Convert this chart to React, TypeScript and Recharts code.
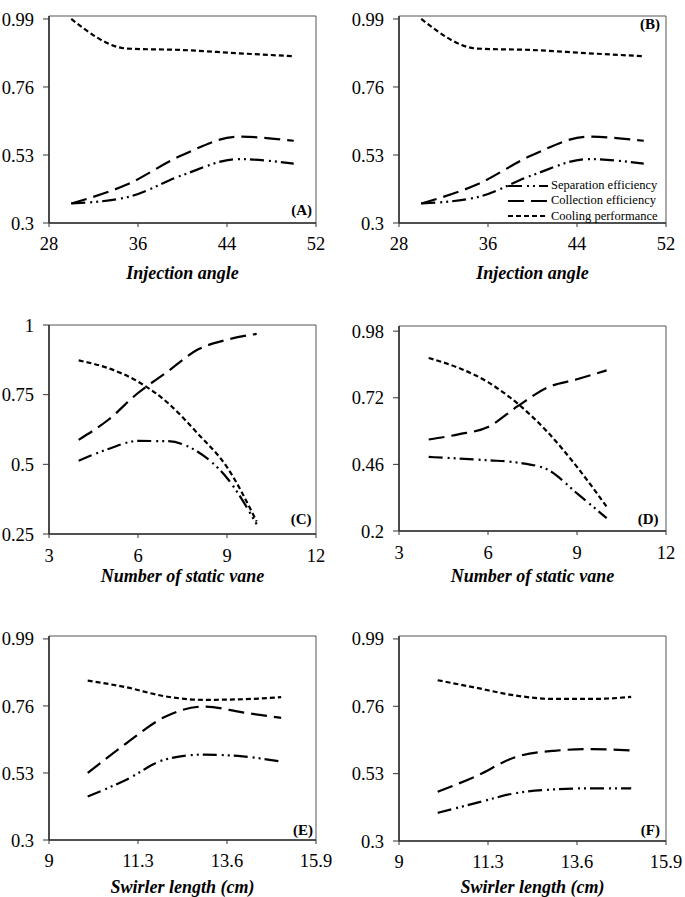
import React from 'react';
import {
  LineChart,
  Line,
  XAxis,
  YAxis,
  ReferenceArea,
  Legend,
  Label,
} from 'recharts';

// x values
const angle = [30, 35, 40, 45, 50];
const vanes = [4, 5, 6, 7, 8, 9, 10];
const swirler = [10, 11, 12, 13, 14, 15];

// (A) / (B) injection angle
const sepAngle = [0.366, 0.387, 0.462, 0.516, 0.501];
const colAngle = [0.366, 0.43, 0.53, 0.592, 0.578];
const coolAngle = [0.99, 0.89, 0.885, 0.874, 0.864];

// (C) static vanes
const sepVaneC = [0.513, 0.555, 0.584, 0.583, 0.546, 0.451, 0.285];
const colVaneC = [0.588, 0.66, 0.756, 0.833, 0.911, 0.947, 0.968];
const coolVaneC = [0.873, 0.845, 0.797, 0.721, 0.612, 0.49, 0.295];

// (D) static vanes
const sepVaneD = [0.489, 0.483, 0.476, 0.467, 0.44, 0.347, 0.25];
const colVaneD = [0.557, 0.577, 0.606, 0.687, 0.76, 0.792, 0.827];
const coolVaneD = [0.875, 0.837, 0.781, 0.697, 0.587, 0.45, 0.295];

// (E) / (F) swirler length
const sepSwirlE = [0.449, 0.507, 0.576, 0.593, 0.587, 0.569];
const colSwirlE = [0.53, 0.632, 0.723, 0.758, 0.738, 0.719];
const coolSwirlE = [0.847, 0.824, 0.793, 0.781, 0.783, 0.79];
const sepSwirlF = [0.396, 0.43, 0.463, 0.476, 0.48, 0.48];
const colSwirlF = [0.468, 0.522, 0.586, 0.608, 0.614, 0.609];
const coolSwirlF = [0.849, 0.823, 0.797, 0.785, 0.785, 0.792];

// axis ticks
const angleTicks = [28, 36, 44, 52];
const vaneTicks = [3, 6, 9, 12];
const swirlTicks = [9, 11.3, 13.6, 15.9];
const effTicks = [0.3, 0.53, 0.76, 0.99];
const effTicksC = [0.25, 0.5, 0.75, 1];
const effTicksD = [0.2, 0.46, 0.72, 0.98];

const SERIES = [
  { key: 'sep', name: 'Separation efficiency', dash: '14 5 2 4 2 4' },
  { key: 'col', name: 'Collection efficiency', dash: '16 7' },
  { key: 'cool', name: 'Cooling performance', dash: '5 3' },
];

const FONT = 'Liberation Serif';

function LegendBox() {
  return (
    <div style={{ fontFamily: FONT, fontSize: 12.5, lineHeight: '15.3px', color: '#000' }}>
      {SERIES.map((s) => (
        <div key={s.key} style={{ display: 'flex', alignItems: 'center', whiteSpace: 'nowrap' }}>
          <svg width={40} height={8} style={{ marginRight: 3 }}>
            <line x1={0} y1={4} x2={40} y2={4} stroke="#000" strokeWidth={2.2} strokeDasharray={s.dash} />
          </svg>
          <span>{s.name}</span>
        </div>
      ))}
    </div>
  );
}

function Panel(p: any) {
  const rows = p.xs.map((x: number, i: number) => ({ x, sep: p.sep[i], col: p.col[i], cool: p.cool[i] }));
  const xh = p.height - p.marginTop - p.plotHeight;
  const tick = { fontFamily: FONT, fontSize: 18.5, fill: '#000' };
  const tagContent = (props: any) => {
    const vb = props.viewBox;
    const x = vb.x + vb.width - p.tagDx;
    const y = p.tagPos === 'top' ? vb.y + p.tagDy : vb.y + vb.height - p.tagDy;
    return (
      <text x={x} y={y} textAnchor="end" fontFamily={FONT} fontSize={15} fontWeight="bold" fill="#000">
        {p.tag}
      </text>
    );
  };
  return (
    <div style={{ position: 'absolute', left: p.left, top: p.top }}>
      <LineChart width={340} height={p.height} data={rows} margin={{ top: p.marginTop, right: 24, left: 0, bottom: 0 }}>
        <ReferenceArea
          x1={p.xDomain[0]}
          x2={p.xDomain[1]}
          y1={p.yDomain[0]}
          y2={p.yDomain[1]}
          fill="none"
          stroke="#555"
          strokeWidth={1}
        >
          <Label content={tagContent} />
        </ReferenceArea>
        <XAxis
          type="number"
          dataKey="x"
          domain={p.xDomain}
          ticks={p.xTicks}
          interval={0}
          height={xh}
          tickSize={4}
          tickMargin={p.tickGap}
          tick={tick}
          axisLine={{ stroke: '#333', strokeWidth: 1.6 }}
          tickLine={{ stroke: '#333' }}
          allowDataOverflow
        >
          <Label
            value={p.title}
            position="insideBottom"
            offset={p.titleOffset}
            style={{ fontFamily: FONT, fontSize: 18, fontWeight: 'bold', fontStyle: 'italic', fill: '#000' }}
          />
        </XAxis>
        <YAxis
          type="number"
          domain={p.yDomain}
          ticks={p.yTicks}
          interval={0}
          width={49}
          tickSize={6}
          tickMargin={9}
          tick={tick}
          axisLine={{ stroke: '#333', strokeWidth: 1.6 }}
          tickLine={{ stroke: '#333' }}
          allowDataOverflow
        />
        {p.legend && (
          <Legend
            layout="horizontal"
            verticalAlign="middle"
            content={() => <LegendBox />}
            wrapperStyle={{ left: 158, top: 178, width: 'auto' }}
          />
        )}
        {SERIES.map((s) => (
          <Line
            key={s.key}
            type="monotone"
            dataKey={s.key}
            name={s.name}
            stroke="#000"
            strokeWidth={2.2}
            strokeDasharray={s.dash}
            dot={false}
            activeDot={false}
            isAnimationActive={false}
          />
        ))}
      </LineChart>
    </div>
  );
}

export default function App() {
  const angleAxis = { xs: angle, xDomain: [28, 52], xTicks: angleTicks, yDomain: [0.3, 1.0], yTicks: effTicks, title: 'Injection angle', tickGap: 10 };
  const vaneAxis = { xs: vanes, xDomain: [3, 12], xTicks: vaneTicks, title: 'Number of static vane', tickGap: 11 };
  const swirlAxis = { xs: swirler, xDomain: [9, 15.9], xTicks: swirlTicks, yDomain: [0.3, 1.0], yTicks: effTicks, title: 'Swirler length (cm)', tickGap: 10 };
  return (
    <div style={{ position: 'absolute', left: 0, top: 0, width: 685, height: 897, background: '#fff', overflow: 'hidden' }}>
      <Panel {...angleAxis} left={0} top={0} height={285} marginTop={16} plotHeight={207} titleOffset={6}
        sep={sepAngle} col={colAngle} cool={coolAngle} tag="(A)" tagPos="bottom" tagDx={4} tagDy={8} />
      <Panel {...angleAxis} left={350} top={0} height={285} marginTop={16} plotHeight={207} titleOffset={6}
        sep={sepAngle} col={colAngle} cool={coolAngle} tag="(B)" tagPos="top" tagDx={6} tagDy={13} legend />
      <Panel {...vaneAxis} yDomain={[0.25, 1]} yTicks={effTicksC} left={0} top={300} height={290} marginTop={25} plotHeight={209} titleOffset={8}
        sep={sepVaneC} col={colVaneC} cool={coolVaneC} tag="(C)" tagPos="bottom" tagDx={4.5} tagDy={10.5} />
      <Panel {...vaneAxis} yDomain={[0.2, 1]} yTicks={effTicksD} left={350} top={300} height={290} marginTop={26} plotHeight={205} titleOffset={8}
        sep={sepVaneD} col={colVaneD} cool={coolVaneD} tag="(D)" tagPos="bottom" tagDx={7.5} tagDy={7.5} />
      <Panel {...swirlAxis} left={0} top={600} height={297} marginTop={36} plotHeight={204} titleOffset={4}
        sep={sepSwirlE} col={colSwirlE} cool={coolSwirlE} tag="(E)" tagPos="bottom" tagDx={3} tagDy={5.5} />
      <Panel {...swirlAxis} left={350} top={600} height={297} marginTop={36} plotHeight={205} titleOffset={4}
        sep={sepSwirlF} col={colSwirlF} cool={coolSwirlF} tag="(F)" tagPos="bottom" tagDx={6} tagDy={6} />
    </div>
  );
}
